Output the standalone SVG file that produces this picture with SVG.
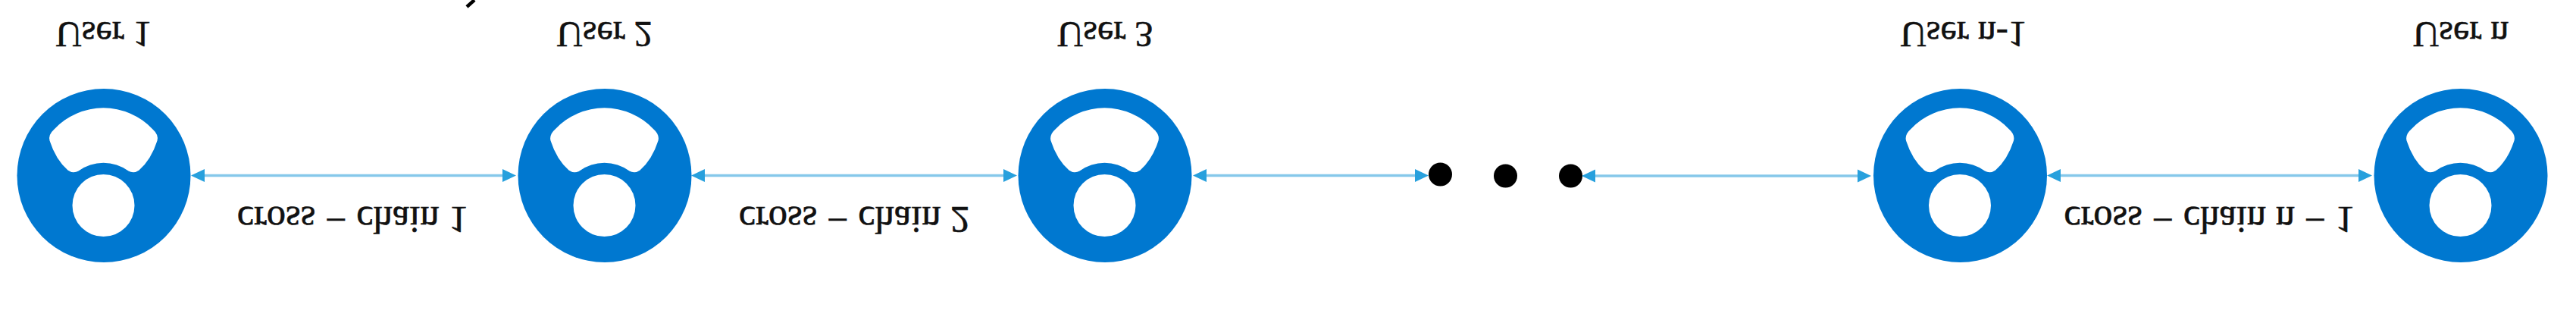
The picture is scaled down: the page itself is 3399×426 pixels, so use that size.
<svg xmlns="http://www.w3.org/2000/svg" width="3399" height="426" viewBox="0 0 3399 426">
<style>
.disc{fill:#0078d0}
.hole{fill:#fff}
.lbl{font-family:"Liberation Serif","Times New Roman",serif;fill:#111;stroke:#111;stroke-width:.6;text-anchor:middle}
.user{font-size:48px}
.edge{font-size:50.500px}
.link{stroke:#86c8ea;stroke-width:3.5;fill:none;marker-start:url(#tip);marker-end:url(#tip)}
.dot{fill:#000}
</style>
<defs>
<marker id="tip" markerUnits="userSpaceOnUse" markerWidth="18" markerHeight="20" refX="0" refY="10" orient="auto-start-reverse" viewBox="0 0 18 20"><path d="M0,1.500L18,10L0,18.500Z" fill="#27a0dd"/></marker>
<g id="icon">
<circle class="disc" r="114.500"/>
<path class="hole" d="M-65-61A89 89 0 0 1 65-61Q73-54 71-46Q63-21 47-7Q40-2 33-6A56 56 0 0 0-33-6Q-40-2-47-7Q-63-21-71-46Q-73-54-65-61Z" transform="translate(-.5 0)"/>
<circle class="hole" cx="-.5" cy="39.500" r="41"/>
</g>
</defs>
<rect width="3399" height="426" fill="#fff"/>
<g id="connectors">
<path class="link" d="M270,231.500H663"/>
<path class="link" d="M930,231.500H1324"/>
<path class="link" d="M1592,231.500H1867"/>
<path class="link" d="M2105,232H2451"/>
<path class="link" d="M2719,231.500H3112"/>
</g>
<g id="user-1"><use href="#icon" x="137" y="231.500"/><text class="lbl user" transform="translate(136.500 29) scale(1 -1)">User 1</text></g>
<g id="user-2"><use href="#icon" x="798" y="231.500"/><text class="lbl user" transform="translate(797.500 29) scale(1 -1)">User 2</text></g>
<g id="user-3"><use href="#icon" x="1458" y="231.500"/><text class="lbl user" transform="translate(1458 29) scale(1 -1)">User 3</text></g>
<g id="user-n-1"><use href="#icon" x="2586.500" y="231.500"/><text class="lbl user" transform="translate(2590.500 29) scale(1 -1)">User n-1</text></g>
<g id="user-n"><use href="#icon" x="3247" y="231.500"/><text class="lbl user" transform="translate(3247 29) scale(1 -1)">User n</text></g>
<g id="label-1"><text class="lbl edge" transform="translate(465 273) scale(1 -1)">cross − chain 1</text></g>
<g id="label-2"><text class="lbl edge" transform="translate(1127 273) scale(1 -1)">cross − chain 2</text></g>
<g id="label-n-1"><text class="lbl edge" transform="translate(2915 273) scale(1 -1)">cross − chain n − 1</text></g>
<g id="ellipsis">
<circle class="dot" cx="1900.500" cy="230" r="15.500"/>
<circle class="dot" cx="1986.500" cy="232" r="15.500"/>
<circle class="dot" cx="2072.500" cy="232" r="15.500"/>
</g>
<path id="mark" d="M616,9L626,0" stroke="#000" stroke-width="4.500" fill="none"/>
</svg>
